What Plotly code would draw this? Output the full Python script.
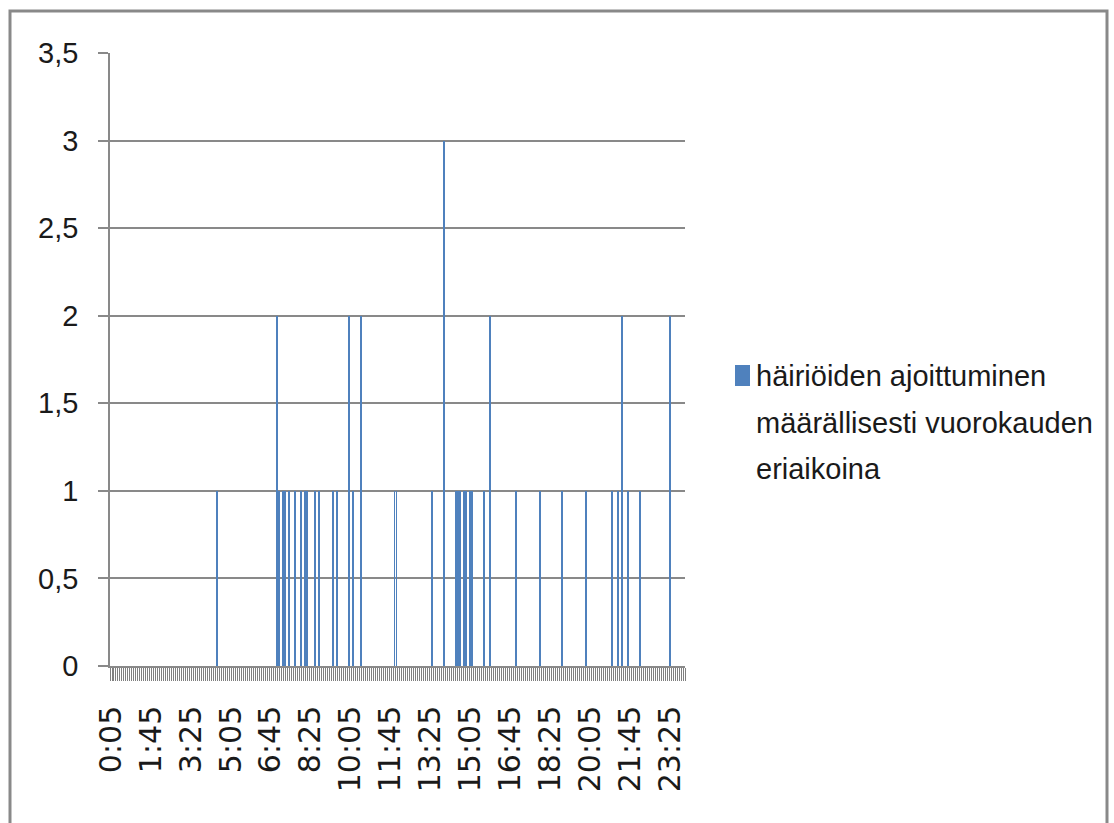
import plotly.graph_objects as go
from datetime import datetime, timedelta

# Number of disturbances per 5-minute slot over one day; slots not listed had none
event_times = [
    "4:30", "7:00", "7:05", "7:15", "7:20", "7:30", "7:45", "8:00", "8:10", "8:15",
    "8:35", "8:45", "9:20", "9:30", "10:00", "10:10", "10:30", "11:55", "12:00", "13:30",
    "14:00", "14:30", "14:35", "14:40", "14:50", "14:55", "15:05", "15:10", "15:40", "15:55",
    "17:00", "18:00", "18:55", "19:55", "21:00", "21:15", "21:25", "21:40", "22:10", "23:25",
]
event_counts = [
    1, 2, 1, 1, 1, 1, 1, 1, 1, 1,
    1, 1, 1, 1, 2, 1, 2, 1, 1, 1,
    3, 1, 1, 1, 1, 1, 1, 1, 1, 2,
    1, 1, 1, 1, 1, 1, 2, 1, 1, 2,
]
series_name = ["häiriöiden ajoittuminen", "määrällisesti vuorokauden", "eriaikoina"]

# Full day of 5-minute slots, 0:05 ... 24:00
day0 = datetime(2000, 1, 1)
slots = [day0 + timedelta(minutes=m) for m in range(5, 1441, 5)]
slot_labels = [f"{m // 60}:{m % 60:02d}" for m in range(5, 1441, 5)]
counts = [0] * len(slots)
for t, c in zip(event_times, event_counts):
    counts[slot_labels.index(t)] = c

BLUE = "#4F81BD"
GREY = "#898989"
TICKGREY = "#808080"
TXT = "#1a1a1a"
W, H = 1114, 823
L, R, T, B = 110, 685, 53, 666


def px(x):
    return (x - L) / (R - L)


def py(y):
    return (B - y) / (B - T)


fig = go.Figure(
    go.Bar(
        x=slots,
        y=counts,
        width=150000,
        marker=dict(color=BLUE, line=dict(width=0)),
        showlegend=False,
    )
)

fig.update_layout(
    width=W,
    height=H,
    margin=dict(l=L, r=W - R, t=T, b=H - B, autoexpand=False),
    paper_bgcolor="white",
    plot_bgcolor="white",
    separators=", ",
    bargap=0,
    font=dict(family="Liberation Sans, sans-serif", color=TXT),
)

fig.update_xaxes(
    type="date",
    range=[day0 + timedelta(minutes=2.5), day0 + timedelta(minutes=1442.5)],
    tickmode="linear",
    tick0=day0 + timedelta(minutes=5),
    dtick=100 * 60 * 1000,
    tickformat="%-H:%M",
    tickangle=-90,
    ticks="",
    ticklabelstandoff=26,
    tickfont=dict(family="DejaVu Sans", size=30, color=TXT),
    minor=dict(
        ticks="outside",
        tick0=day0 + timedelta(minutes=2.5),
        dtick=5 * 60 * 1000,
        ticklen=13,
        tickwidth=1.3,
        tickcolor=TICKGREY,
        showgrid=False,
    ),
    showgrid=False,
    showline=True,
    linecolor=GREY,
    linewidth=1.5,
    zeroline=False,
)

fig.update_yaxes(
    range=[0, 3.5],
    tickmode="linear",
    tick0=0,
    dtick=0.5,
    ticks="outside",
    ticklen=10,
    tickwidth=1.5,
    tickcolor=GREY,
    ticklabelstandoff=14,
    tickfont=dict(size=29, color=TXT),
    showgrid=True,
    gridcolor=GREY,
    gridwidth=1.5,
    showline=True,
    linecolor=GREY,
    linewidth=1.5,
    zeroline=False,
)

# Chart frame
fig.add_shape(
    type="rect", xref="paper", yref="paper",
    x0=px(10), x1=px(1107), y0=py(828), y1=py(11),
    line=dict(color=GREY, width=3), fillcolor="rgba(0,0,0,0)", layer="below",
)

# Legend: swatch plus wrapped series name
fig.add_shape(
    type="rect", xref="paper", yref="paper",
    x0=px(735), x1=px(750), y0=py(386), y1=py(365),
    line=dict(width=0), fillcolor=BLUE,
)
for i, line in enumerate(series_name):
    fig.add_annotation(
        xref="paper", yref="paper",
        x=px(754), y=py(376 + 46.5 * i),
        xanchor="left", yanchor="middle",
        text=line, showarrow=False,
        font=dict(size=29, color=TXT),
    )

fig.write_html("out.html")
